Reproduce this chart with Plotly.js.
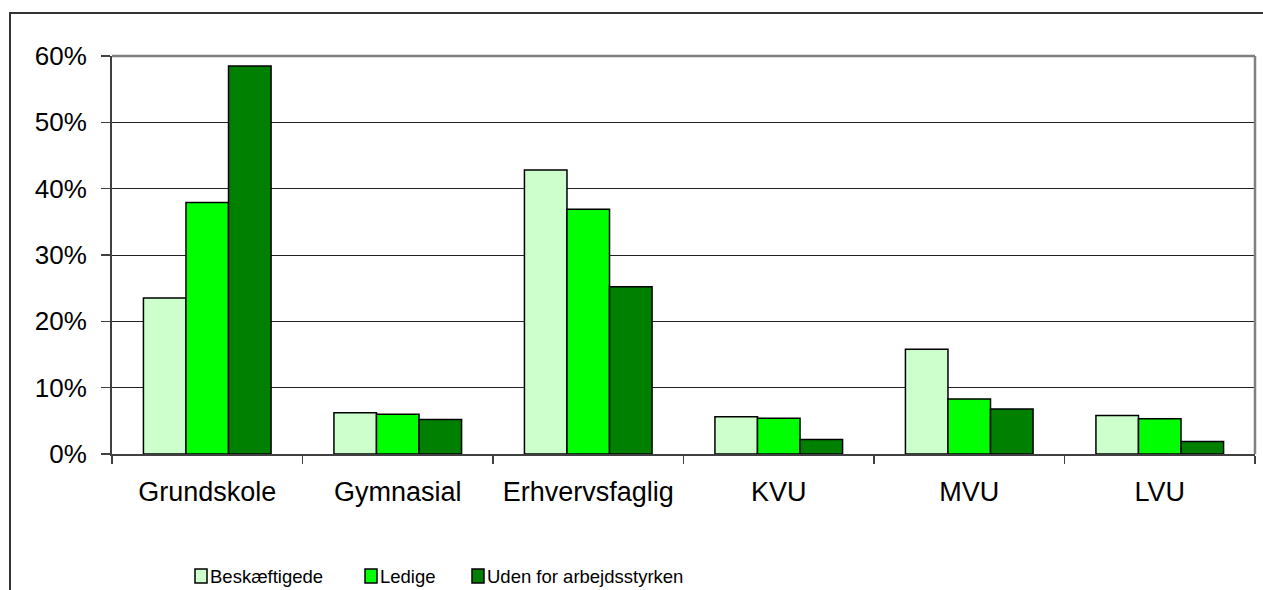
<!DOCTYPE html>
<html>
<head>
<meta charset="utf-8">
<script src="https://cdn.plot.ly/plotly-3.0.1.min.js"></script>
<style>
  html, body { margin: 0; padding: 0; background: #fff; }
  #wrap { position: relative; width: 1263px; height: 590px; overflow: hidden; }
  #chart { position: absolute; left: 0; top: 0; width: 1263px; height: 590px; }
  #frame { position: absolute; left: 9px; top: 12px; width: 1400px; height: 700px;
           border-left: 2px solid #333; border-top: 2px solid #333; pointer-events: none; }
</style>
</head>
<body>
<div id="wrap">
  <div id="chart"></div>
  <div id="frame"></div>
</div>
<script>
const categories = ["Grundskole", "Gymnasial", "Erhvervsfaglig", "KVU", "MVU", "LVU"];
const seriesNames = ["Beskæftigede", "Ledige", "Uden for arbejdsstyrken"];
const beskaeftigede = [0.235, 0.062, 0.428, 0.056, 0.158, 0.058];
const ledige = [0.379, 0.060, 0.369, 0.054, 0.083, 0.053];
const udenFor = [0.585, 0.052, 0.252, 0.022, 0.068, 0.019];
const yTicks = [0, 0.1, 0.2, 0.3, 0.4, 0.5, 0.6];

const colors = ["#CCFFCC", "#00FF00", "#008000"];
const values = [beskaeftigede, ledige, udenFor];

const traces = values.map((v, i) => ({
  type: "bar",
  name: seriesNames[i],
  x: categories,
  y: v,
  marker: { color: colors[i], line: { color: "#000", width: 1.5 } },
  hoverinfo: "skip",
  showlegend: false
}));

const font = "Liberation Sans, Arial, sans-serif";

// plot area geometry (pixels) used to place the legend in paper units
const W = 1263, H = 590, L = 112, R = 8, T = 56, B = 136;
const pw = W - L - R, ph = H - T - B;
const px = x => (x - L) / pw;
const py = y => (H - B - y) / ph;

// custom legend: square swatch + label per series
const legendBoxX = [195, 365, 472];
const legendCenterY = 576;
const shapes = [
  { type: "line", xref: "paper", yref: "paper", x0: 0, x1: 1, y0: 1, y1: 1,
    line: { color: "#808080", width: 2.5 }, layer: "above" },
  { type: "line", xref: "paper", yref: "paper", x0: 1, x1: 1, y0: 0, y1: 1,
    line: { color: "#808080", width: 2.5 }, layer: "above" }
];
const annotations = [];
seriesNames.forEach((name, i) => {
  const bx = legendBoxX[i];
  shapes.push({
    type: "rect", xref: "paper", yref: "paper",
    x0: px(bx), x1: px(bx + 12), y0: py(legendCenterY + 7), y1: py(legendCenterY - 7),
    fillcolor: colors[i], line: { color: "#000", width: 1.5 }
  });
  annotations.push({
    xref: "paper", yref: "paper", x: px(bx + 13), y: py(legendCenterY),
    xanchor: "left", yanchor: "middle", showarrow: false,
    text: name, font: { family: font, size: 18.5, color: "#000" }
  });
});

const layout = {
  width: W,
  height: H,
  margin: { l: L, r: R, t: T, b: B },
  paper_bgcolor: "#fff",
  plot_bgcolor: "#fff",
  barmode: "group",
  bargap: 0.33,
  bargroupgap: 0,
  showlegend: false,
  xaxis: {
    type: "category",
    tickson: "boundaries",
    ticks: "outside",
    ticklen: 8,
    tickcolor: "#404040",
    tickwidth: 1.5,
    showline: true,
    linecolor: "#404040",
    linewidth: 2,
    showgrid: false,
    tickfont: { family: font, size: 27, color: "#000" },
    ticklabelstandoff: 13,
    automargin: false,
    fixedrange: true
  },
  yaxis: {
    range: [0, 0.6],
    tickvals: yTicks,
    tickformat: ".0%",
    ticks: "outside",
    ticklen: 9,
    tickcolor: "#404040",
    tickwidth: 1.5,
    showline: true,
    linecolor: "#404040",
    linewidth: 2,
    showgrid: true,
    gridcolor: "#222",
    gridwidth: 1,
    zeroline: false,
    tickfont: { family: font, size: 26, color: "#000" },
    ticklabelstandoff: 9,
    automargin: false,
    fixedrange: true
  },
  shapes: shapes,
  annotations: annotations
};

Plotly.newPlot("chart", traces, layout, { displayModeBar: false, staticPlot: true });
</script>
</body>
</html>
